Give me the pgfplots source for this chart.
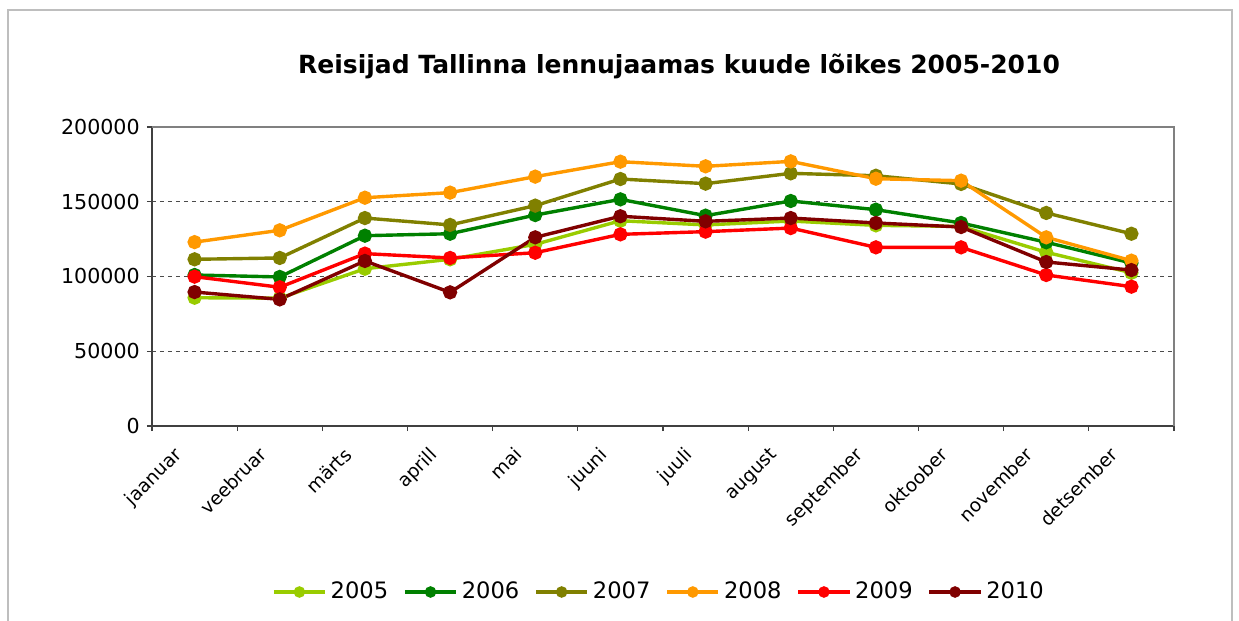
\documentclass[border=0pt]{standalone}
\usepackage{pgfplots}
\pgfplotsset{compat=1.18}
\usepackage{fontspec}
\setmainfont{DejaVu Sans}
\definecolor{c2005}{RGB}{153,204,0}
\definecolor{c2006}{RGB}{0,128,0}
\definecolor{c2007}{RGB}{128,128,0}
\definecolor{c2008}{RGB}{255,153,0}
\definecolor{c2009}{RGB}{255,0,0}
\definecolor{c2010}{RGB}{128,0,0}
\definecolor{framegray}{RGB}{190,190,190}
\definecolor{axisdark}{RGB}{64,64,64}
\begin{document}
\begin{tikzpicture}
\useasboundingbox (-76pt,-97.5pt) rectangle (543.5pt,213pt);
\draw[framegray, line width=1.2pt] (-72pt,-110pt) -- (-72pt,208pt) -- (540pt,208pt) -- (540pt,-110pt);
\begin{axis}[
  at={(0pt,0pt)}, anchor=south west,
  scale only axis,
  width=511pt, height=149.5pt,
  xmin=-0.5, xmax=11.5,
  ymin=0, ymax=200000,
  axis x line*=bottom, axis y line*=left,
  axis line style={axisdark, line width=0.8pt},
  ytick={0,50000,100000,150000,200000},
  scaled y ticks=false,
  yticklabel style={font=\fontsize{10.3}{12}\selectfont, /pgf/number format/.cd, fixed, 1000 sep={}, assume math mode=true},
  tick align=outside,
  major tick length=2.6pt,
  minor tick length=2.6pt,
  tick style={axisdark, line width=0.6pt},
  xtick={0,...,11},
  xticklabels={jaanuar,veebruar,märts,aprill,mai,juuni,juuli,august,september,oktoober,november,detsember},
  x tick style={draw=none},
  minor xtick={-0.5,0.5,...,11.5},
  minor x tick style={draw=axisdark, line width=0.6pt},
  xticklabel style={font=\fontsize{9.3}{11}\selectfont, anchor=north east, xshift=-11pt, yshift=-2.5pt, rotate=45},
  ymajorgrids,
  grid style={draw=black!70, dash pattern=on 2pt off 2pt, line width=0.5pt},
  every axis plot/.append style={line width=1.7pt, mark=*, mark size=2.7pt},
  legend style={at={(254pt,-83pt)}, anchor=center, draw=none, fill=none,
    legend columns=6, font=\fontsize{11.3}{13}\selectfont,
    /tikz/every even column/.append style={column sep=5.5pt}},
  legend cell align=left,
  legend image code/.code={\draw[mark repeat=2,mark phase=2,mark size=2pt] plot coordinates {(0cm,0cm)(0.45cm,0cm)(0.9cm,0cm)};},
  clip=false,
]
\addplot[color=c2005, mark options={fill=c2005}] coordinates {(0,85800)(1,85500)(2,105200)(3,111500)(4,121500)(5,137300)(6,134500)(7,137100)(8,134200)(9,133500)(10,116200)(11,102500)};
\addlegendentry{2005}
\addplot[color=c2006, mark options={fill=c2006}] coordinates {(0,101000)(1,99700)(2,127300)(3,128600)(4,141100)(5,151600)(6,140700)(7,150500)(8,144700)(9,135800)(10,122900)(11,109000)};
\addlegendentry{2006}
\addplot[color=c2007, mark options={fill=c2007}] coordinates {(0,111500)(1,112400)(2,139100)(3,134500)(4,147400)(5,165200)(6,162100)(7,169000)(8,167400)(9,161900)(10,142500)(11,128600)};
\addlegendentry{2007}
\addplot[color=c2008, mark options={fill=c2008}] coordinates {(0,123000)(1,130900)(2,152700)(3,156100)(4,166800)(5,176800)(6,173700)(7,177000)(8,165400)(9,164100)(10,126200)(11,110600)};
\addlegendentry{2008}
\addplot[color=c2009, mark options={fill=c2009}] coordinates {(0,99900)(1,92800)(2,115300)(3,112400)(4,115900)(5,128200)(6,130000)(7,132400)(8,119500)(9,119500)(10,101000)(11,93200)};
\addlegendentry{2009}
\addplot[color=c2010, mark options={fill=c2010}] coordinates {(0,89600)(1,84700)(2,110400)(3,89400)(4,126200)(5,140300)(6,136900)(7,139100)(8,135800)(9,133100)(10,109700)(11,104300)};
\addlegendentry{2010}
\draw[black!50, line width=0.8pt] (rel axis cs:0,1) -- (rel axis cs:1,1) -- (rel axis cs:1,0);
\node[font=\bfseries\fontsize{12.5}{14}\selectfont] at (263.5pt,180pt) {Reisijad Tallinna lennujaamas kuude lõikes 2005-2010};
\end{axis}
\end{tikzpicture}
\end{document}
